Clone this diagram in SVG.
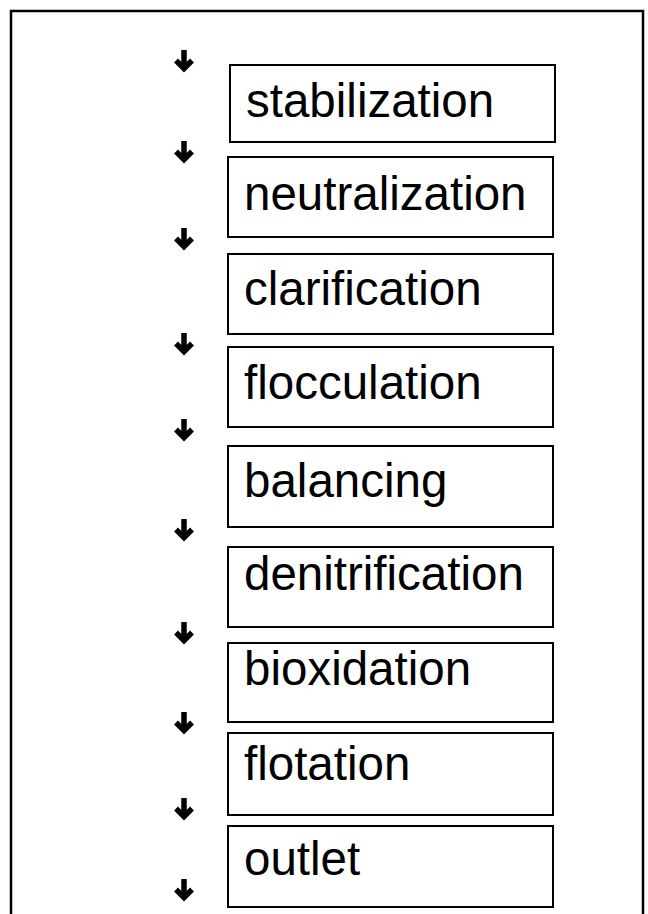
<svg xmlns="http://www.w3.org/2000/svg" width="648" height="914" viewBox="0 0 648 914">
<defs>
<style>
.box{fill:#fff;stroke:#000;stroke-width:2}
.lbl{font-family:"Liberation Sans",Arial,sans-serif;font-size:47.5px;fill:#000}
.frame{fill:none;stroke:#000;stroke-width:2.5}
.arr{fill:none;stroke:#000;stroke-linejoin:miter;stroke-linecap:butt;stroke-width:5.5}
</style>
<g id="arr" class="arr">
<path d="M0 0 V18"/>
<path d="M-8 10.5 L0 18.5 L8 10.5"/>
</g>
</defs>
<rect width="648" height="914" fill="#fff"/>
<path class="frame" d="M11 914 V11 H643 V914"/>
<g id="connectors">
<use href="#arr" x="184" y="50"/>
<use href="#arr" x="184" y="141"/>
<use href="#arr" x="184" y="228"/>
<use href="#arr" x="184" y="333"/>
<use href="#arr" x="184" y="419"/>
<use href="#arr" x="184" y="519"/>
<use href="#arr" x="184" y="622"/>
<use href="#arr" x="184" y="712"/>
<use href="#arr" x="184" y="798"/>
<use href="#arr" x="184" y="879"/>
</g>
<g id="stabilization"><rect class="box" x="230" y="65" width="325" height="77"/><text class="lbl" x="246" y="117">stabilization</text></g>
<g id="neutralization"><rect class="box" x="228" y="157" width="325" height="80"/><text class="lbl" x="244" y="210">neutralization</text></g>
<g id="clarification"><rect class="box" x="228" y="254" width="325" height="80"/><text class="lbl" x="244" y="305">clarification</text></g>
<g id="flocculation"><rect class="box" x="228" y="347" width="325" height="80"/><text class="lbl" x="244" y="399">flocculation</text></g>
<g id="balancing"><rect class="box" x="228" y="446" width="325" height="81"/><text class="lbl" x="244" y="497">balancing</text></g>
<g id="denitrification"><rect class="box" x="228" y="547" width="325" height="80"/><text class="lbl" x="244" y="590">denitrification</text></g>
<g id="bioxidation"><rect class="box" x="228" y="643" width="325" height="79"/><text class="lbl" x="244" y="685">bioxidation</text></g>
<g id="flotation"><rect class="box" x="228" y="733" width="325" height="82"/><text class="lbl" x="244" y="780">flotation</text></g>
<g id="outlet"><rect class="box" x="228" y="826" width="325" height="81"/><text class="lbl" x="244" y="875">outlet</text></g>
</svg>
